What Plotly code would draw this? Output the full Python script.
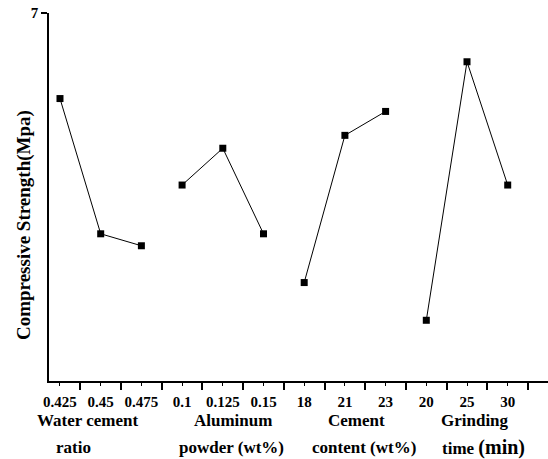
import plotly.graph_objects as go

# Data
tick_labels = ["0.425", "0.45", "0.475", "0.1", "0.125", "0.15",
               "18", "21", "23", "20", "25", "30"]
water_cement = [6.07, 4.60, 4.47]
aluminum = [5.13, 5.53, 4.60]
cement = [4.07, 5.67, 5.93]
grinding = [3.66, 6.47, 5.13]
groups = [water_cement, aluminum, cement, grinding]
group_titles = [("Water cement", "ratio"), ("Aluminum", "powder (wt%)"),
                ("Cement", "content (wt%)"), ("Grinding", "time <span style='font-size:20px'>(min)</span>")]

FONT = "Times New Roman, Liberation Serif, DejaVu Serif, serif"
fig = go.Figure()
pos = 0
for g in groups:
    xs = list(range(pos, pos + len(g)))
    fig.add_trace(go.Scatter(x=xs, y=g, mode="lines+markers",
                             line=dict(color="black", width=1),
                             marker=dict(symbol="square", size=7, color="black"),
                             showlegend=False))
    pos += len(g)

n = len(tick_labels)
fig.update_xaxes(range=[-0.27, 11.99], showline=True, linecolor="black", linewidth=1.5,
                 showgrid=False, zeroline=False, automargin=False,
                 tickmode="array", tickvals=list(range(n)), ticktext=["<b>%s</b>" % t for t in tick_labels],
                 ticks="outside", ticklen=3, tickcolor="black", tickwidth=1,
                 ticklabelstandoff=3,
                 tickfont=dict(family=FONT, size=15, color="black"),
                 minor=dict(tickmode="array", tickvals=[i + 0.5 for i in range(n)],
                            ticks="outside", ticklen=7, tickcolor="black", tickwidth=1.5,
                            showgrid=False))
fig.update_yaxes(range=[3, 7], showline=True, linecolor="black", linewidth=1.5,
                 showgrid=False, zeroline=False, automargin=False,
                 ticklabeloverflow="allow",
                 tickmode="array", tickvals=[7], ticktext=["<b>7</b>"],
                 ticks="outside", ticklen=6, tickcolor="black", tickwidth=1.5,
                 tickfont=dict(family=FONT, size=15, color="black"))

annos = []
centers = [(0.69, 0.34), (4.25, 4.22), (7.29, 7.46), (10.19, 10.41)]
for (t1, t2), (c1, c2) in zip(group_titles, centers):
    annos.append(dict(x=c1, y=-0.106, xref="x", yref="paper", text="<b>%s</b>" % t1, showarrow=False,
                      xanchor="center", yanchor="middle",
                      font=dict(family=FONT, size=17, color="black")))
    annos.append(dict(x=c2, y=-0.182, xref="x", yref="paper", text="<b>%s</b>" % t2, showarrow=False,
                      xanchor="center", yanchor="middle",
                      font=dict(family=FONT, size=17, color="black")))
annos.append(dict(x=-0.05, y=0.424, xref="paper", yref="paper",
                  text="<b>Compressive Strength(Mpa)</b>", textangle=-90, showarrow=False,
                  xanchor="center", yanchor="middle",
                  font=dict(family=FONT, size=19, color="black")))

fig.update_layout(width=548, height=459, margin=dict(l=49, r=0, t=13, b=78),
                  plot_bgcolor="white", paper_bgcolor="white", annotations=annos)

fig.write_html("out.html", config={"displayModeBar": False},
               post_script="document.body.style.margin='0px';")
